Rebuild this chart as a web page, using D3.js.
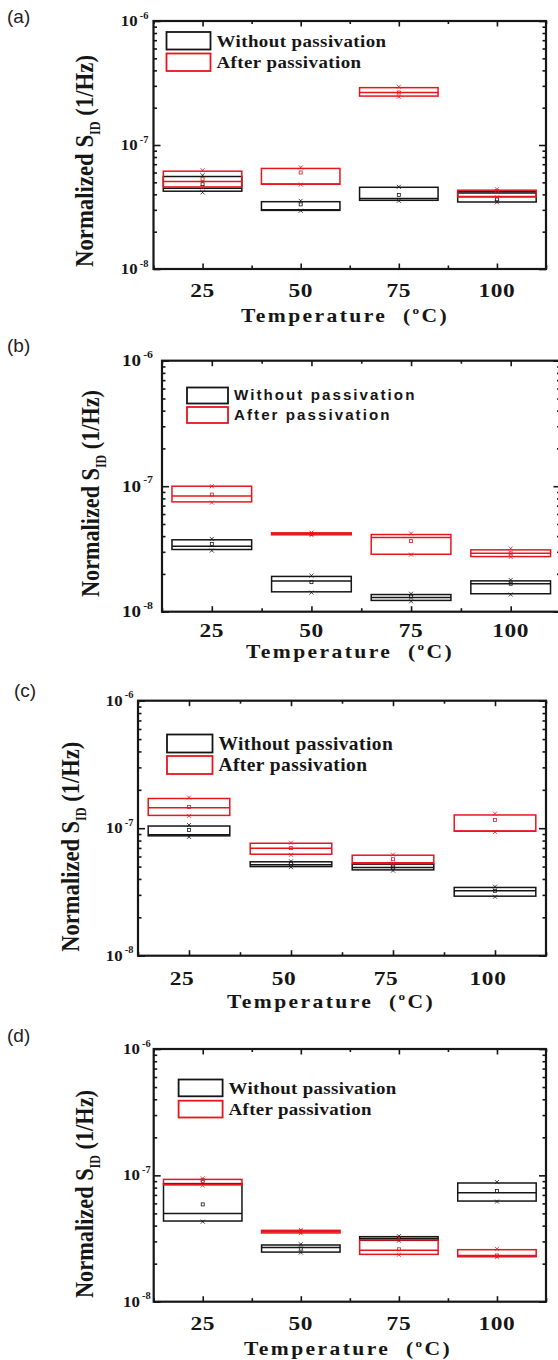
<!DOCTYPE html>
<html>
<head>
<meta charset="utf-8">
<script src="https://cdn.jsdelivr.net/npm/d3@7/dist/d3.min.js"></script>
<style>
  body { margin: 0; background: #fff; }
  svg { display: block; }
</style>
</head>
<body>
<svg id="chart" width="558" height="1360"></svg>
<script>
// temperatures (°C) and labels
const categories = [25, 50, 75, 100];
const seriesNames = ["Without passivation", "After passivation"];
const panelLetters = ["(a)", "(b)", "(c)", "(d)"];
const decades = [-6, -7, -8];

// each row (one per temperature): [min, q1, median, q3, max, mean]
const withoutA = [
  [4.15e-8, 4.24e-8, 4.48e-8, 5.57e-8, 5.7e-8, 4.83e-8],
  [2.95e-8, 2.97e-8, 3.0e-8, 3.49e-8, 3.55e-8, 3.32e-8],
  [3.55e-8, 3.58e-8, 3.7e-8, 4.56e-8, 4.6e-8, 3.96e-8],
  [3.45e-8, 3.47e-8, 4.1e-8, 4.21e-8, 4.25e-8, 3.65e-8],
];
const afterA = [
  [4.55e-8, 4.59e-8, 5.07e-8, 6.15e-8, 6.25e-8, 5.3e-8],
  [4.8e-8, 4.83e-8, 4.85e-8, 6.47e-8, 6.6e-8, 6.0e-8],
  [2.45e-7, 2.48e-7, 2.65e-7, 2.9e-7, 2.95e-7, 2.65e-7],
  [3.78e-8, 3.81e-8, 3.85e-8, 4.32e-8, 4.4e-8, 4.2e-8],
];
const withoutB = [
  [3.07e-8, 3.13e-8, 3.33e-8, 3.74e-8, 3.8e-8, 3.47e-8],
  [1.42e-8, 1.44e-8, 1.76e-8, 1.91e-8, 1.94e-8, 1.72e-8],
  [1.21e-8, 1.23e-8, 1.3e-8, 1.37e-8, 1.39e-8, 1.32e-8],
  [1.37e-8, 1.39e-8, 1.67e-8, 1.76e-8, 1.79e-8, 1.67e-8],
];
const afterB = [
  [7.4e-8, 7.5e-8, 8.37e-8, 1.0e-7, 1.0e-7, 8.58e-8],
  [4.08e-8, 4.1e-8, 4.17e-8, 4.25e-8, 4.27e-8, 4.17e-8],
  [2.85e-8, 2.87e-8, 3.9e-8, 4.12e-8, 4.2e-8, 3.65e-8],
  [2.73e-8, 2.75e-8, 2.92e-8, 3.11e-8, 3.19e-8, 2.92e-8],
];
const withoutC = [
  [8.55e-8, 8.71e-8, 8.87e-8, 1.04e-7, 1.06e-7, 9.7e-8],
  [4.95e-8, 5.0e-8, 5.16e-8, 5.45e-8, 5.5e-8, 5.28e-8],
  [4.65e-8, 4.71e-8, 4.91e-8, 5.22e-8, 5.22e-8, 4.91e-8],
  [2.9e-8, 2.93e-8, 3.23e-8, 3.43e-8, 3.48e-8, 3.23e-8],
];
const afterC = [
  [1.25e-7, 1.26e-7, 1.45e-7, 1.71e-7, 1.74e-7, 1.47e-7],
  [6.18e-8, 6.25e-8, 6.97e-8, 7.62e-8, 7.7e-8, 6.97e-8],
  [5.28e-8, 5.28e-8, 5.37e-8, 6.14e-8, 6.2e-8, 5.71e-8],
  [9.35e-8, 9.47e-8, 9.5e-8, 1.27e-7, 1.3e-7, 1.16e-7],
];
const withoutD = [
  [4.3e-8, 4.35e-8, 5.0e-8, 8.6e-8, 9.2e-8, 5.89e-8],
  [2.45e-8, 2.47e-8, 2.68e-8, 2.81e-8, 2.85e-8, 2.63e-8],
  [3.04e-8, 3.06e-8, 3.17e-8, 3.27e-8, 3.3e-8, 3.2e-8],
  [6.2e-8, 6.26e-8, 7.29e-8, 8.7e-8, 8.85e-8, 7.52e-8],
];
const afterD = [
  [8.3e-8, 8.4e-8, 8.49e-8, 9.29e-8, 9.47e-8, 9.02e-8],
  [3.48e-8, 3.5e-8, 3.58e-8, 3.67e-8, 3.7e-8, 3.6e-8],
  [2.35e-8, 2.37e-8, 2.55e-8, 3.08e-8, 3.2e-8, 2.6e-8],
  [2.25e-8, 2.27e-8, 2.32e-8, 2.58e-8, 2.62e-8, 2.32e-8],
];

const BLACK = "#161616";
const RED = "#e8151d";
const SERIF = "'Liberation Serif', 'Times New Roman', serif";
const SANS = "'Liberation Sans', Arial, sans-serif";

// placement of the four panels
const panels = [
  { without: withoutA, after: afterA, left: 153.5, right: 546, top: 21, bottom: 269,
    letterX: 7, letterY: 23,
    tickFont: 15, tickGap: 5, xTickY: 297, xTickDx: 0,
    xTitleX: 345, xTitleY: 322, yTitleX: 93, yTitleY: 161, yTitleLen: 212,
    legX: 166.5, legW: 44, legY: [32, 53.5], legH: 17.5, legFont: SERIF, legSize: 17.5, legSpacing: 0.4 },
  { without: withoutB, after: afterB, left: 162, right: 560.5, top: 360.7, bottom: 611.7,
    letterX: 7, letterY: 351.5,
    tickFont: 17, tickGap: 9, xTickY: 637, xTickDx: 0,
    xTitleX: 350, xTitleY: 658, yTitleX: 99, yTitleY: 493.5, yTitleLen: 207,
    legX: 187, legW: 41, legY: [387.5, 407], legH: 16, legFont: SANS, legSize: 14, legSpacing: 1.9 },
  { without: withoutC, after: afterC, left: 138, right: 546, top: 700.7, bottom: 955.7,
    letterX: 14, letterY: 696.5,
    tickFont: 15, tickGap: 4.5, xTickY: 985, xTickDx: -7,
    xTitleX: 331, xTitleY: 1008, yTitleX: 79, yTitleY: 846.7, yTitleLen: 210,
    legX: 167, legW: 45.5, legY: [734.5, 756], legH: 18, legFont: SERIF, legSize: 18, legSpacing: 0.4 },
  { without: withoutD, after: afterD, left: 153.7, right: 546, top: 1049, bottom: 1301.7,
    letterX: 7, letterY: 1041.5,
    tickFont: 15, tickGap: 3, xTickY: 1330, xTickDx: 0,
    xTitleX: 348, xTitleY: 1355, yTitleX: 93, yTitleY: 1194, yTitleLen: 208,
    legX: 178.6, legW: 44, legY: [1079.5, 1100.7], legH: 16.8, legFont: SERIF, legSize: 17.5, legSpacing: 0.3 },
];

const svg = d3.select("#chart");

function drawPanel(p, idx) {
  const g = svg.append("g");
  const scX = d3.scaleLinear().domain([12.5, 112.5]).range([p.left, p.right]);
  const scY = d3.scaleLog().domain([1e-8, 1e-6]).range([p.bottom, p.top]);

  // boxes: without first, after on top
  const series = [
    { rows: p.without, color: BLACK },
    { rows: p.after, color: RED },
  ];
  series.forEach((s) => {
    const boxes = g
      .append("g")
      .selectAll("g")
      .data(categories.map((c, i) => ({ c: c, v: s.rows[i] })))
      .join("g")
      .attr("stroke", s.color)
      .attr("fill", "none");

    boxes
      .append("rect")
      .attr("x", (d) => scX(d.c - 10))
      .attr("width", (d) => scX(d.c + 10) - scX(d.c - 10))
      .attr("y", (d) => scY(d.v[3]))
      .attr("height", (d) => Math.max(scY(d.v[1]) - scY(d.v[3]), 1))
      .attr("stroke-width", 1.5);

    boxes
      .append("line")
      .attr("x1", (d) => scX(d.c - 10))
      .attr("x2", (d) => scX(d.c + 10))
      .attr("y1", (d) => scY(d.v[2]))
      .attr("y2", (d) => scY(d.v[2]))
      .attr("stroke-width", 1.5);

    // mean marker
    boxes
      .append("rect")
      .attr("x", (d) => scX(d.c) - 1.5)
      .attr("y", (d) => scY(d.v[5]) - 1.5)
      .attr("width", 3)
      .attr("height", 3)
      .attr("stroke-width", 0.8);

    // min / max markers
    [0, 4].forEach((k) => {
      boxes
        .append("path")
        .attr("d", (d) => {
          const cx = scX(d.c), cy = scY(d.v[k]);
          return `M${cx - 2},${cy - 2}L${cx + 2},${cy + 2}M${cx - 2},${cy + 2}L${cx + 2},${cy - 2}`;
        })
        .attr("stroke-width", 0.8);
    });
  });

  // ticks (all pointing inward)
  const majorY = decades.map((e) => Math.pow(10, e));
  const minorY = [];
  [-8, -7].forEach((e) => {
    for (let k = 2; k <= 9; k++) minorY.push(k * Math.pow(10, e));
  });
  const minorX = [12.5, 37.5, 62.5, 87.5, 112.5];

  const axes = [
    [d3.axisLeft(scY).tickValues(majorY).tickSize(-7), `translate(${p.left},0)`],
    [d3.axisLeft(scY).tickValues(minorY).tickSize(-3.5), `translate(${p.left},0)`],
    [d3.axisRight(scY).tickValues(majorY).tickSize(-7), `translate(${p.right},0)`],
    [d3.axisRight(scY).tickValues(minorY).tickSize(-3.5), `translate(${p.right},0)`],
    [d3.axisBottom(scX).tickValues(categories).tickSize(-5.5), `translate(0,${p.bottom})`],
    [d3.axisBottom(scX).tickValues(minorX).tickSize(-3.5), `translate(0,${p.bottom})`],
    [d3.axisTop(scX).tickValues(categories).tickSize(-5.5), `translate(0,${p.top})`],
    [d3.axisTop(scX).tickValues(minorX).tickSize(-3), `translate(0,${p.top})`],
  ];
  axes.forEach(([ax, tr]) => {
    const a = g.append("g").attr("transform", tr).call(ax.tickFormat(""));
    a.select(".domain").remove();
    a.selectAll("line").attr("stroke", BLACK).attr("stroke-width", 1.6);
  });

  // frame
  g.append("rect")
    .attr("x", p.left)
    .attr("y", p.top)
    .attr("width", p.right - p.left)
    .attr("height", p.bottom - p.top)
    .attr("fill", "none")
    .attr("stroke", BLACK)
    .attr("stroke-width", 2.2);

  // y tick labels 10^-n
  decades.forEach((e) => {
    const t = g
      .append("g")
      .attr("transform", `translate(${p.left - p.tickGap},${scY(Math.pow(10, e)) + p.tickFont * 0.34}) scale(1.12,1)`)
      .append("text")
      .attr("text-anchor", "end")
      .attr("font-family", SERIF)
      .attr("font-weight", "bold")
      .attr("font-size", p.tickFont)
      .attr("fill", BLACK);
    t.append("tspan").text("10");
    t.append("tspan")
      .attr("font-size", p.tickFont * 0.62)
      .attr("dy", -p.tickFont * 0.5)
      .attr("dx", 2)
      .text(e);
  });

  // x tick labels
  categories.forEach((c) => {
    g.append("g")
      .attr("transform", `translate(${scX(c) + p.xTickDx},${p.xTickY}) scale(1.2,1)`)
      .append("text")
      .attr("text-anchor", "middle")
      .attr("font-family", SERIF)
      .attr("font-weight", "bold")
      .attr("font-size", 19.5)
      .attr("letter-spacing", 0.5)
      .attr("fill", BLACK)
      .text(c);
  });

  // x title
  const xt = g
    .append("g")
    .attr("transform", `translate(${p.xTitleX},${p.xTitleY}) scale(1.2,1)`)
    .append("text")
    .attr("text-anchor", "middle")
    .attr("font-family", SERIF)
    .attr("font-weight", "bold")
    .attr("font-size", 18)
    .attr("letter-spacing", 2)
    .attr("fill", BLACK);
  xt.append("tspan").text("Temperature\u00a0 (");
  xt.append("tspan").attr("font-size", 11).attr("dy", -8).text("o");
  xt.append("tspan").attr("dy", 8).text("C)");

  // y title (rotated)
  const yt = g
    .append("g")
    .attr("transform", `translate(${p.yTitleX},${p.yTitleY}) rotate(-90)`)
    .append("text")
    .attr("text-anchor", "middle")
    .attr("font-family", SERIF)
    .attr("font-weight", "bold")
    .attr("font-size", 26)
    .attr("fill", BLACK)
    .attr("textLength", p.yTitleLen)
    .attr("lengthAdjust", "spacingAndGlyphs");
  yt.append("tspan").text("Normalized S");
  yt.append("tspan").attr("font-size", 14).attr("dy", 7).text("ID");
  yt.append("tspan").attr("dy", -7).text("\u00a0(1/Hz)");

  // legend
  [BLACK, RED].forEach((col, i) => {
    g.append("rect")
      .attr("x", p.legX)
      .attr("y", p.legY[i])
      .attr("width", p.legW)
      .attr("height", p.legH)
      .attr("fill", "none")
      .attr("stroke", col)
      .attr("stroke-width", 1.8);
    g.append("g")
      .attr("transform", `translate(${p.legX + p.legW + 6},${p.legY[i] + p.legH / 2 + p.legSize * 0.34}) scale(1.08,1)`)
      .append("text")
      .attr("font-family", p.legFont)
      .attr("font-weight", "bold")
      .attr("font-size", p.legSize)
      .attr("letter-spacing", p.legSpacing)
      .attr("fill", BLACK)
      .text(seriesNames[i]);
  });

  // panel letter
  svg.append("text")
    .attr("x", p.letterX)
    .attr("y", p.letterY)
    .attr("font-family", SANS)
    .attr("font-size", 19)
    .attr("fill", "#222")
    .text(panelLetters[idx]);
}

panels.forEach(drawPanel);
</script>
</body>
</html>
